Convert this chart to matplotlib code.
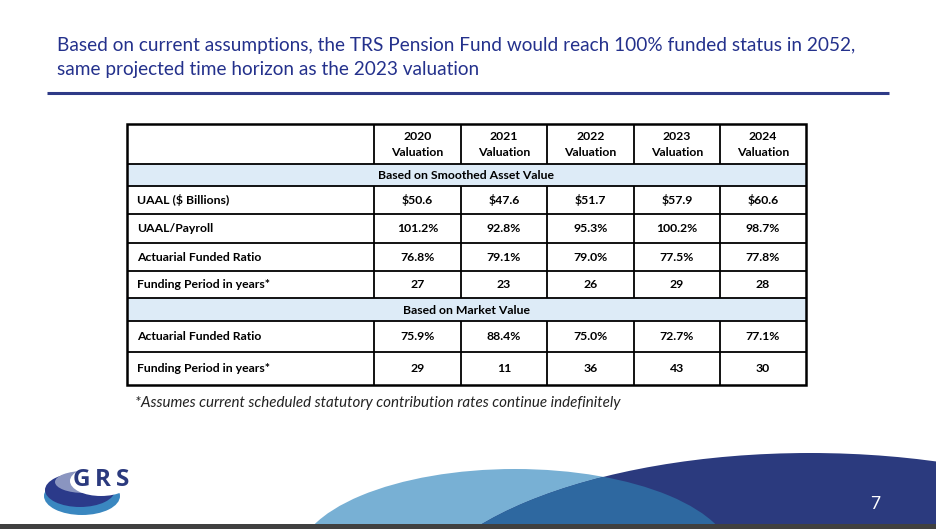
import matplotlib
matplotlib.use("Agg")
import matplotlib.pyplot as plt
from matplotlib.patches import Rectangle, Ellipse

# ---------------- data ----------------
title_lines = ["Based on current assumptions, the TRS Pension Fund would reach 100% funded status in 2052,",
               "same projected time horizon as the 2023 valuation"]
years = ["2020", "2021", "2022", "2023", "2024"]
header_sub = "Valuation"
section_smoothed = "Based on Smoothed Asset Value"
section_market = "Based on Market Value"
smoothed_labels = ["UAAL ($ Billions)", "UAAL/Payroll", "Actuarial Funded Ratio", "Funding Period in years*"]
uaal = [50.6, 47.6, 51.7, 57.9, 60.6]
uaal_payroll = [101.2, 92.8, 95.3, 100.2, 98.7]
afr_smoothed = [76.8, 79.1, 79.0, 77.5, 77.8]
fp_smoothed = [27, 23, 26, 29, 28]
market_labels = ["Actuarial Funded Ratio", "Funding Period in years*"]
afr_market = [75.9, 88.4, 75.0, 72.7, 77.1]
fp_market = [29, 11, 36, 43, 30]
footnote = "*Assumes current scheduled statutory contribution rates continue indefinitely"
page_no = "7"
logo_letters = ["G", "R", "S"]

smoothed_values = [["$%.1f" % v for v in uaal],
                   ["%.1f%%" % v for v in uaal_payroll],
                   ["%.1f%%" % v for v in afr_smoothed],
                   ["%d" % v for v in fp_smoothed]]
market_values = [["%.1f%%" % v for v in afr_market],
                 ["%d" % v for v in fp_market]]

# ---------------- style ----------------
NAVY = "#2B3A7E"
TITLE_C = "#24318C"
BAND = "#DDEBF7"
LIGHTBLUE = "#78B0D4"
MIDBLUE = "#2E68A0"
FONT = "Lato"

W, H = 936, 529
fig = plt.figure(figsize=(W / 100, H / 100), dpi=100)
ax = fig.add_axes([0, 0, 1, 1])
ax.set_xlim(0, W)
ax.set_ylim(H, 0)
ax.axis("off")
renderer = fig.canvas.get_renderer()


def fit_size(text, target_px, **kw):
    t = ax.text(0, 0, text, fontsize=10, parse_math=False, **kw)
    w = t.get_window_extent(renderer=renderer).width
    t.remove()
    return 10 * target_px / w


# title
tsize = fit_size(title_lines[0], 800, family=FONT)
for i, line in enumerate(title_lines):
    ax.text(57, 46 + 23 * i, line, fontsize=tsize, family=FONT, color=TITLE_C,
            va="center", ha="left", parse_math=False)
ax.plot([47, 889], [93, 93], color="#2E3A87", lw=2.2, solid_capstyle="butt")

# table geometry
left, right = 127, 806
col_edges = [127, 374, 461, 547, 634, 720, 806]
row_edges = [124, 164, 186, 214, 243, 271, 298, 321, 352, 385]
fs = fit_size("Actuarial Funded Ratio", 126, family=FONT, weight="bold")

# bands
for (y0, y1, txt) in [(row_edges[1], row_edges[2], section_smoothed),
                      (row_edges[6], row_edges[7], section_market)]:
    ax.add_patch(Rectangle((left, y0), right - left, y1 - y0, facecolor=BAND, edgecolor="none"))
    ax.text((left + right) / 2, (y0 + y1) / 2 + 0.5, txt, fontsize=fs, family=FONT, weight="bold",
            ha="center", va="center", color="black", parse_math=False)

# header
for j, yr in enumerate(years):
    cx = (col_edges[j + 1] + col_edges[j + 2]) / 2
    ax.text(cx, 136, yr, fontsize=fs, family=FONT, weight="bold", ha="center", va="center")
    ax.text(cx, 152, header_sub, fontsize=fs, family=FONT, weight="bold", ha="center", va="center")

# body rows
body = [(smoothed_labels[i], smoothed_values[i], row_edges[2 + i], row_edges[3 + i]) for i in range(4)]
body += [(market_labels[i], market_values[i], row_edges[7 + i], row_edges[8 + i]) for i in range(2)]
for lab, vals, y0, y1 in body:
    cy = (y0 + y1) / 2 + 0.5
    ax.text(137, cy, lab, fontsize=fs, family=FONT, weight="bold", ha="left", va="center",
            parse_math=False)
    for j, v in enumerate(vals):
        cx = (col_edges[j + 1] + col_edges[j + 2]) / 2
        ax.text(cx, cy, v, fontsize=fs, family=FONT, weight="bold", ha="center", va="center",
                parse_math=False)

# grid lines
for y in row_edges[1:-1]:
    ax.plot([left, right], [y, y], color="black", lw=1.3, solid_capstyle="butt")
for x in col_edges[1:-1]:
    segs = [(row_edges[0], row_edges[1]), (row_edges[2], row_edges[6]), (row_edges[7], row_edges[9])]
    for y0, y1 in segs:
        ax.plot([x, x], [y0, y1], color="black", lw=1.3, solid_capstyle="butt")
ax.add_patch(Rectangle((left, row_edges[0]), right - left, row_edges[-1] - row_edges[0],
                       facecolor="none", edgecolor="black", lw=1.8))

# footnote
fns = fit_size(footnote, 486, family=FONT, style="italic")
ax.text(135, 403, footnote, fontsize=fns, family=FONT, style="italic", color="#222222",
        ha="left", va="center", parse_math=False)

# decorative bottom shapes
light = Ellipse((515, 560), 436, 182, facecolor=LIGHTBLUE, edgecolor="none", zorder=1)
ax.add_patch(light)
navy = Ellipse((810, 620), 802, 334, facecolor=NAVY, edgecolor="none", zorder=2)
ax.add_patch(navy)
overlap = Ellipse((515, 560), 436, 182, facecolor=MIDBLUE, edgecolor="none", zorder=3)
ax.add_patch(overlap)
overlap.set_clip_path(navy)
ax.add_patch(Rectangle((0, 524), W, 5, facecolor="#404040", edgecolor="none", zorder=5))
ax.text(875, 504, page_no, fontsize=12.5, family=FONT, color="white", ha="center", va="center",
        zorder=6)

# logo
ax.add_patch(Ellipse((82, 496), 76, 38, facecolor="#3A87C0", edgecolor="none", zorder=4))
ax.add_patch(Ellipse((80, 490), 70, 34, facecolor="#2B3A8A", edgecolor="none", zorder=4))
ax.add_patch(Ellipse((84, 482), 58, 22, facecolor="#8A95C0", edgecolor="none", zorder=4))
ax.add_patch(Ellipse((101, 481), 62, 30, facecolor="white", edgecolor="none", zorder=4))
for letter, cx in zip(logo_letters, [81, 103, 123]):
    ax.text(cx, 479.5, letter, fontsize=17.5, family="Open Sans", weight="bold", color="#2B3A7E",
            ha="center", va="center", zorder=6)

fig.savefig("out.png", dpi=100)
